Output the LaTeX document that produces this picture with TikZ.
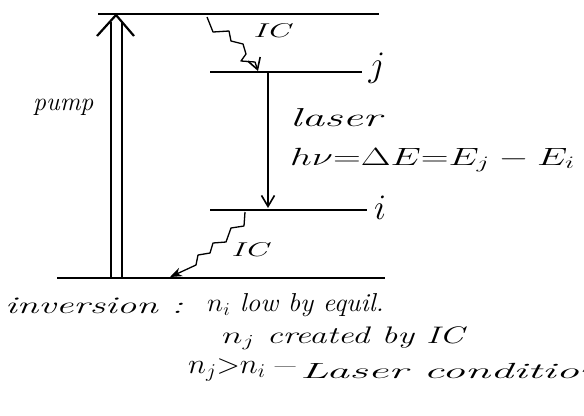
\RequirePackage{fix-cm}
\documentclass[tikz,border=0pt]{standalone}
\usepackage{graphicx}
\usetikzlibrary{arrows.meta}
\newcommand\hw[2]{\scalebox{#1}[1]{#2}}
\begin{document}
\begin{tikzpicture}[x=1bp,y=-1bp,
  level/.style={line width=2.2bp},
  lbl/.style={inner sep=0pt,font=\fontsize{24}{28}\selectfont\itshape},
  big/.style={inner sep=0pt,font=\fontsize{36}{40}\selectfont\itshape},
  small/.style={inner sep=0pt,font=\fontsize{20}{24}\selectfont\itshape},
  wavy/.style={line width=1.3bp,line join=round},
  barb/.style={-{Straight Barb[length=11bp,width=13bp,line width=1.6bp]}}]
\useasboundingbox (0,0) rectangle (584,415);
\clip (0,0) rectangle (584,415);
% levels
\coordinate (T1) at (98,14);  \coordinate (T2) at (379,14);
\coordinate (J1) at (210,72); \coordinate (J2) at (362,72);
\coordinate (I1) at (210,210); \coordinate (I2) at (367,210);
\coordinate (G1) at (57,278); \coordinate (G2) at (385,278);
\draw[level] (T1) -- (T2);
\draw[level] (J1) -- (J2);
\draw[level] (I1) -- (I2);
\draw[level] (G1) -- (G2);
% pump double arrow
\coordinate (PA) at (116,15);
\coordinate (PL) at (97,36);
\coordinate (PR) at (134,36);
\draw[line width=2bp] (111,278) -- (111,22);
\draw[line width=2bp] (122,278) -- (122,22);
\draw[line width=2.2bp,line join=miter] (PL) -- (PA) -- (PR);
\node[lbl,anchor=west] (pump) at (33,107) {\fontsize{26}{30}\selectfont\hw{1.0}{pump}};
% laser arrow
\coordinate (LA) at (268,73);
\coordinate (LB) at (268,208);
\draw[line width=1.5bp,barb] (LA) -- (LB);
\node[lbl,anchor=west] (laser) at (290,118) {\fontsize{26}{30}\selectfont\hw{1.75}{laser}};
\node[lbl,anchor=west] (eq) at (290,160) {\fontsize{25}{30}\selectfont\hw{1.55}{$h\nu{=}\Delta E{=}E_j-E_i$}};
\node[big] (jl) at (377,68) {$j$};
\node[big] (il) at (380,208) {$i$};
% upper IC
\coordinate (U0) at (207,17);
\coordinate (U1) at (258,71);
\draw[wavy,barb] (U0) -- (213,32) -- (229,31) -- (231,41) -- (243,44) -- (246,54) -- (241,61) -- (255,62) -- (U1);
\node[small,anchor=west] (ic1) at (253,31) {\hw{1.7}{IC}};
% lower IC
\coordinate (D0) at (245,212);
\coordinate (D1) at (170,277);
\draw[wavy,-{Stealth[length=12bp,width=9bp]}] (D0) -- (244,226) -- (231,228) -- (226,242) -- (213,243) -- (210,253) -- (198,255) -- (196,265) -- (D1);
\node[small,anchor=west] (ic2) at (231,250) {\hw{1.7}{IC}};
% bottom text
\node[lbl,anchor=west] (inv) at (5,306) {\hw{1.63}{inversion :}};
\node[lbl,anchor=west] (ni) at (207,305) {\fontsize{26}{30}\selectfont\hw{1.06}{$n_i$ low by equil.}};
\node[lbl,anchor=west] (nj) at (222,338) {\hw{1.46}{$n_j$ created by IC}};
\node[lbl,anchor=west] (cond) at (188,370) {\fontsize{28}{32}\selectfont\hw{1.1}{$n_j{>}n_i$}};
\node[lbl] (dash) at (282,370) {\hw{2}{--}};
\node[lbl,anchor=west] (lc) at (300,371) {\fontsize{22}{26}\selectfont\hw{2.1}{Laser condition}};
\end{tikzpicture}
\end{document}
